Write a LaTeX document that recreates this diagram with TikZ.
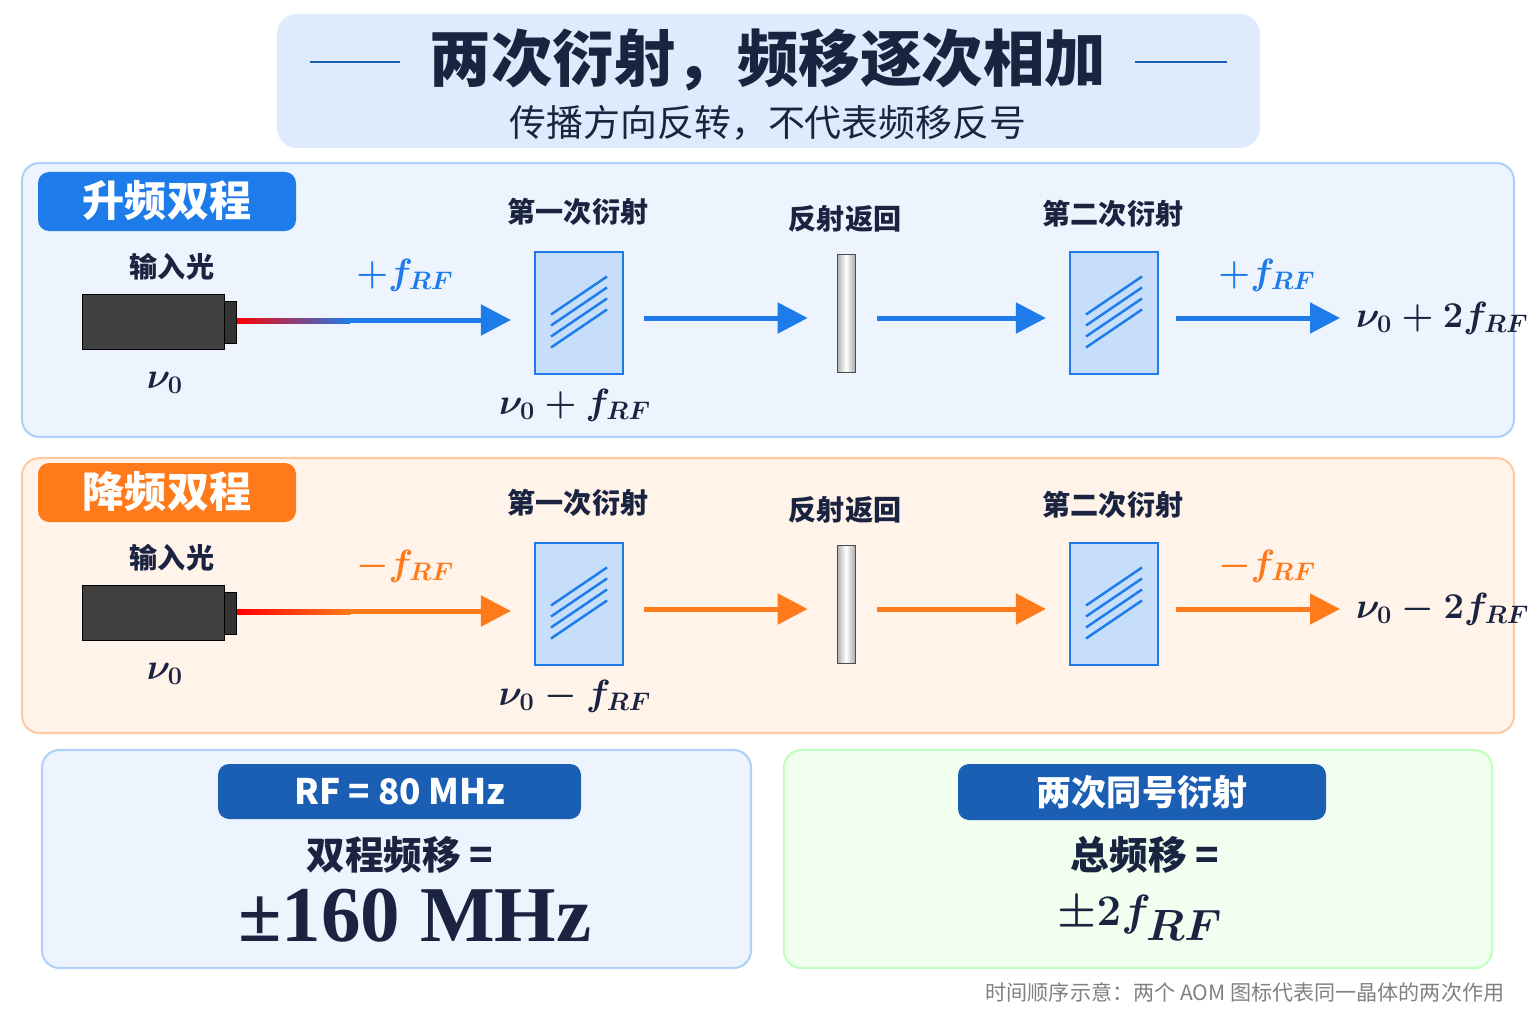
\documentclass[tikz,border=0pt]{standalone}
\usepackage{fontspec}
\setmainfont{Noto Sans CJK SC}
\newfontfamily\numfont{Liberation Serif}
\usetikzlibrary{arrows.meta,positioning}
\definecolor{upc}{HTML}{1E7BEA}
\definecolor{dnc}{HTML}{FF7A1A}
\definecolor{navy}{HTML}{1B5FB5}
\definecolor{ink}{HTML}{1A2440}
\newcommand{\fs}[1]{\fontsize{#1}{#1}\selectfont}

\begin{document}
\begin{tikzpicture}[x=0.02cm,y=-0.02cm]
  \tikzset{panel/.style = {rounded corners=0.35cm, line width=1.2pt}}
  \tikzset{tag/.style = {rounded corners=0.22cm, text=white, font=\bfseries\fs{24}}}
  \tikzset{lbl/.style = {font=\bfseries\fs{16}, text=ink}}
  \tikzset{aom/.style = {draw=upc, fill=upc!25, line width=1.2pt, minimum width=1.76cm, minimum height=2.44cm}}
  \tikzset{mirror/.style = {draw=gray!60!black, left color=gray!65, right color=gray!65, middle color=white, minimum width=0.36cm, minimum height=2.36cm, inner sep=0pt}}
  \tikzset{beam/.style = {line width=0.1cm, -{Triangle[length=0.6cm,width=0.6cm]}}}
  \tikzset{mth/.style = {font=\fs{22}\boldmath, text=ink}}
  \useasboundingbox (0,0) rectangle (1536,1024);

  % title
  \fill[rounded corners=0.4cm, fill=upc!15] (277,14) rectangle (1260,148);
  \node[font=\bfseries\fs{35}, text=ink] (title) at (768,60) {两次衍射，频移逐次相加};
  \node[font=\fs{21}, text=ink] (subtitle) at (768,123) {传播方向反转，不代表频移反号};
  \draw[navy, line width=1pt] (310,62) -- (400,62) (1135,62) -- (1227,62);

  % panels
  \draw[panel, draw=upc!35, fill=upc!8] (22,163) rectangle (1514,437);
  \draw[panel, draw=dnc!40, fill=dnc!9] (22,458) rectangle (1514,733);

  \foreach \dy/\col/\sg/\tagtxt/\nm in {0/upc/+/升频双程/u, 291/dnc/-/降频双程/d}{
    \begin{scope}[yshift=-\dy*0.02cm]
      \fill[tag, fill=\col] (38,172) rectangle (296,231);
      \node[tag] (tag\nm) at (167,201) {\tagtxt};
      \node[lbl] (in\nm) at (172,267) {输入光};
      \node[draw=black, fill=black!75, minimum width=2.84cm, minimum height=1.1cm, inner sep=0pt] (laser\nm) at (153,322) {};
      \node[draw=black, fill=black!80, minimum width=0.24cm, minimum height=0.84cm, inner sep=0pt, right=0pt of laser\nm] (nub\nm) {};
      \node[mth] (nu\nm) at (165,383) {$\nu_0$};
      \node[aom] (aomA\nm) at (579,313) {};
      \node[aom] (aomB\nm) at (1114,313) {};
      \foreach \k in {-1.5,-0.5,0.5,1.5}
        \draw[upc, line width=1.4pt] ([shift={(-28,{18+\k*11})}]aomA\nm.center) -- ([shift={(28,{-20+\k*11})}]aomA\nm.center)
          ([shift={(-28,{18+\k*11})}]aomB\nm.center) -- ([shift={(28,{-20+\k*11})}]aomB\nm.center);
      \node[mirror] (mir\nm) at (846,313) {};
      \node[lbl] (firstlbl\nm) at (578,212) {第一次衍射};
      \node[lbl] (mirlbl\nm) at (845,219) {反射返回};
      \node[lbl] (secondlbl\nm) at (1113,214) {第二次衍射};
      \node[mth, text=\col] (sgA\nm) at (405,275) {$\sg f_{RF}$};
      \node[mth, text=\col] (sgB\nm) at (1267,275) {$\sg f_{RF}$};
      \node[mth] (midout\nm) at (575,405) {$\nu_0 \sg f_{RF}$};
      \node[mth, anchor=west] (out\nm) at (1350,318) {$\nu_0 \sg 2f_{RF}$};
      \coordinate (mix\nm) at (350,320);
      \shade[left color=red, right color=\col] (nub\nm.east |- 0,318) rectangle (mix\nm |- 0,323);
      \draw[beam, \col] (mix\nm) -- ([xshift=-0.46cm]aomA\nm.west |- mix\nm);
      \draw[beam, \col] ([xshift=0.4cm]aomA\nm.east |- 0,318) -- ([xshift=-0.58cm]mir\nm.west |- 0,318);
      \draw[beam, \col] ([xshift=0.44cm]mir\nm.east |- 0,318) -- ([xshift=-0.46cm]aomB\nm.west |- 0,318);
      \draw[beam, \col] ([xshift=0.34cm]aomB\nm.east |- 0,318) -- ([xshift=-0.2cm]out\nm.west);
    \end{scope}
  }

  % bottom boxes
  \draw[panel, draw=upc!35, fill=upc!8] (42,750) rectangle (751,968);
  \fill[tag, fill=navy] (218,764) rectangle (581,819);
  \node[text=white, font=\bfseries\fs{20}] (rftag) at (400,792) {RF = 80 MHz};
  \node[lbl, font=\bfseries\fs{22}] (dp) at (400,855) {双程频移 =};
  \node[font=\numfont\bfseries\fs{45}, text=ink] (res) at (415,916) {±160 MHz};

  \draw[panel, draw=green!25, fill=green!6] (784,750) rectangle (1492,968);
  \fill[tag, fill=navy] (958,764) rectangle (1326,820);
  \node[text=white, font=\bfseries\fs{20}] (sametag) at (1142,792) {两次同号衍射};
  \node[lbl, font=\bfseries\fs{22}] (tot) at (1145,855) {总频移 =};
  \node[font=\fs{45}\boldmath, text=ink] (tres) at (1140,918) {$\pm 2f_{RF}$};

  \node[font=\fs{12}, text=gray] (note) at (1245,992) {时间顺序示意：两个 AOM 图标代表同一晶体的两次作用};
\end{tikzpicture}
\end{document}
